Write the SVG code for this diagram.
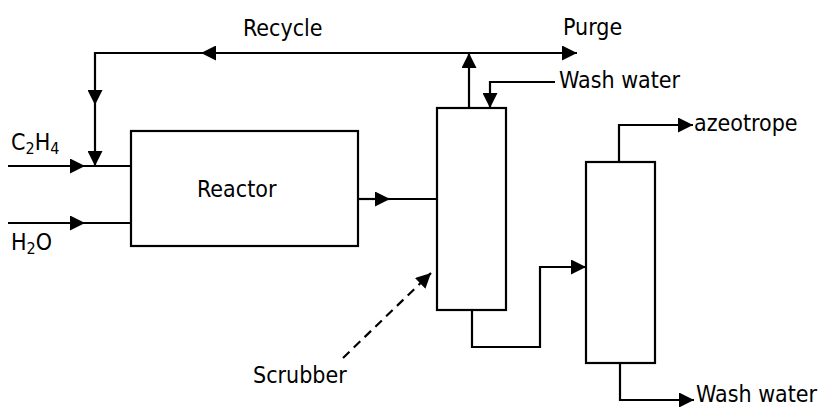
<svg xmlns="http://www.w3.org/2000/svg" width="822" height="407" viewBox="0 0 822 407">
<style>
.l{fill:none;stroke:#000;stroke-width:2.2}
.u{fill:#fff;stroke:#000;stroke-width:2.2}
.t{font-family:"DejaVu Sans Condensed","DejaVu Sans",Verdana,sans-serif;font-stretch:condensed;font-size:23px;fill:#000}
.d{stroke-dasharray:9,6}
</style>
<defs>
<marker id="a" markerUnits="userSpaceOnUse" markerWidth="15" markerHeight="15" refX="15" refY="7.5" orient="auto">
<path d="M0,0 L15,7.5 L0,15 z" fill="#000"/>
</marker>
</defs>
<g id="reactor"><rect class="u" x="131" y="131" width="227" height="115"/><text class="t" x="197" y="197">Reactor</text></g>
<g id="scrubber"><rect class="u" x="437" y="108" width="69" height="202"/></g>
<g id="column"><rect class="u" x="586" y="162" width="69" height="201"/></g>
<g id="labels">
<text class="t" x="11" y="150" font-size="23">C<tspan font-size="16" dy="4">2</tspan><tspan dy="-4">H</tspan><tspan font-size="16" dy="4">4</tspan></text>
<text class="t" x="11" y="250" font-size="23">H<tspan font-size="16" dy="4">2</tspan><tspan dy="-4">O</tspan></text>
<text class="t" x="243" y="36">Recycle</text>
<text class="t" x="563" y="35">Purge</text>
<text class="t" x="559" y="88">Wash water</text>
<text class="t" x="694" y="131">azeotrope</text>
<text class="t" x="696" y="402">Wash water</text>
<text class="t" x="253" y="383" font-size="25">Scrubber</text>
</g>
<g id="connectors">
<path class="l" d="M8,166 H85" marker-end="url(#a)"/>
<path class="l" d="M85,166 H131"/>
<path class="l" d="M8,223 H85" marker-end="url(#a)"/>
<path class="l" d="M85,223 H131"/>
<path class="l" d="M469,53 H577" marker-end="url(#a)"/>
<path class="l" d="M469,53 H201" marker-end="url(#a)"/>
<path class="l" d="M201,53 H95 V105" marker-end="url(#a)"/>
<path class="l" d="M95,105 V166" marker-end="url(#a)"/>
<path class="l" d="M469,108 V53" marker-end="url(#a)"/>
<path class="l" d="M555,82 H490 V108" marker-end="url(#a)"/>
<path class="l" d="M358,199 H390" marker-end="url(#a)"/>
<path class="l" d="M390,199 H437"/>
<path class="l" d="M472,310 V347 H540 V267 H586" marker-end="url(#a)"/>
<path class="l" d="M619,162 V125 H693" marker-end="url(#a)"/>
<path class="l" d="M620,363 V400 H694" marker-end="url(#a)"/>
<path class="l d" d="M343,358 L431,273" marker-end="url(#a)"/>
</g>
</svg>
